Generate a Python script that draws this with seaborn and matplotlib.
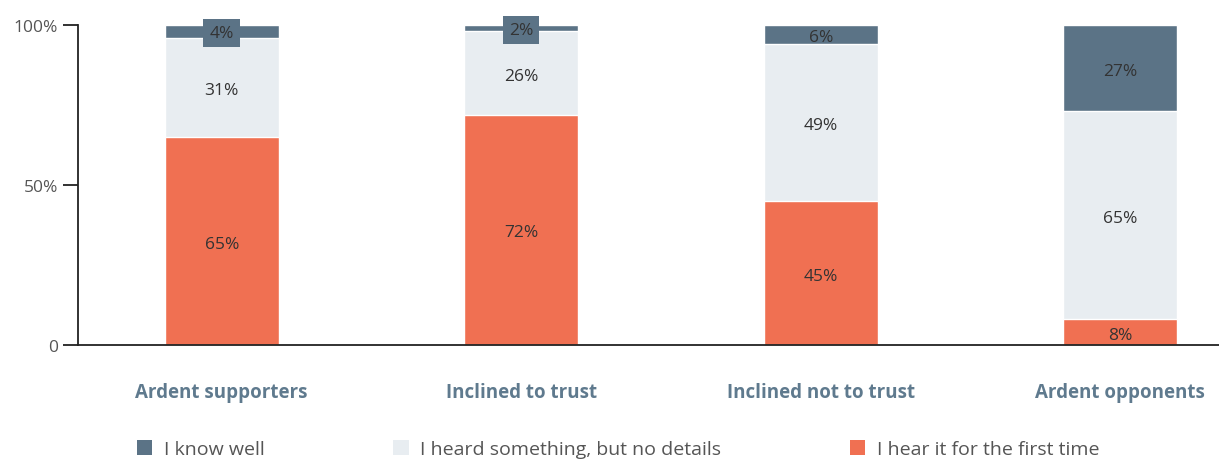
import numpy as np
import pandas as pd
import matplotlib
matplotlib.use("Agg")
import matplotlib.pyplot as plt
import seaborn as sns
from matplotlib.patches import Patch

# Data
categories = ["Ardent supporters", "Inclined to trust", "Inclined not to trust", "Ardent opponents"]
know_well = [4, 2, 6, 27]
heard_something = [31, 26, 49, 65]
first_time = [65, 72, 45, 8]
series_names = ["I know well", "I heard something, but no details", "I hear it for the first time"]
ytick_vals = [0, 50, 100]
ytick_labels = ["0", "50%", "100%"]

c_dark = "#5b7386"
c_light = "#e8edf1"
c_orange = "#f07052"
text_dark = "#333333"

sns.set_theme(style="white")
plt.rcParams["font.family"] = ["Open Sans", "DejaVu Sans"]
plt.rcParams["ytick.left"] = True
plt.rcParams["ytick.major.size"] = 11
plt.rcParams["ytick.major.width"] = 1.3
plt.rcParams["ytick.color"] = "#222222"

df = pd.DataFrame({
    "category": categories,
    "know": know_well,
    "heard": heard_something,
    "first": first_time,
})
# cumulative heights for stacking (drawn from the top layer down)
df["top"] = df["know"] + df["heard"] + df["first"]
df["mid"] = df["heard"] + df["first"]

fig = plt.figure(figsize=(12.19, 4.6), dpi=100)
ax = fig.add_axes([78 / 1219, (460 - 346) / 460, 1 - 78 / 1219, 320 / 460])

bw = 0.38
sns.barplot(data=df, x="category", y="top", color=c_dark, width=bw, ax=ax, saturation=1)
sns.barplot(data=df, x="category", y="mid", color=c_light, width=bw, ax=ax, saturation=1)
sns.barplot(data=df, x="category", y="first", color=c_orange, width=bw, ax=ax, saturation=1)

# segment labels
for i in range(len(categories)):
    segs = [
        (0, first_time[i]),
        (first_time[i], heard_something[i]),
        (first_time[i] + heard_something[i], know_well[i]),
    ]
    for k, (base, val) in enumerate(segs):
        y = base + val / 2
        if k == 2 and val < 5:
            ax.text(i, y - 0.5, f"{val}%", ha="center", va="center", fontsize=12.5,
                    color=text_dark, clip_on=False,
                    bbox=dict(boxstyle="square,pad=0.35", fc=c_dark, ec="none"))
        else:
            ax.text(i, y - 0.8, f"{val}%", ha="center", va="center", fontsize=12.5,
                    color=text_dark)

ax.set_xlim(-0.48, 3.33)
ax.set_ylim(0, 100)
ax.set_yticks(ytick_vals)
ax.set_yticklabels(ytick_labels, fontsize=12.5, color="#555555")
ax.yaxis.set_ticks_position("left")
ax.tick_params(axis="y", which="major", left=True, length=11, width=1.3,
               color="#222222", pad=3.5)
ax.tick_params(axis="x", length=0, pad=27)
ax.set_xticks(range(len(categories)))
ax.set_xticklabels(categories, fontsize=13.5, fontweight="bold", color="#5f7a8e")
ax.set_xlabel("")
ax.set_ylabel("")

sns.despine(ax=ax, top=True, right=True)
for side in ["left", "bottom"]:
    ax.spines[side].set_color("#222222")
    ax.spines[side].set_linewidth(1.3)

handles = [Patch(fc=c_dark, ec="none"), Patch(fc=c_light, ec="none"), Patch(fc=c_orange, ec="none")]
leg = fig.legend(handles, series_names, loc="center", bbox_to_anchor=(0.507, 0.022), ncol=3,
                 frameon=False, fontsize=14, handlelength=0.8, handleheight=0.8,
                 handletextpad=0.6, columnspacing=6.6)
for t in leg.get_texts():
    t.set_color("#555555")

fig.savefig("out.png", dpi=100)
